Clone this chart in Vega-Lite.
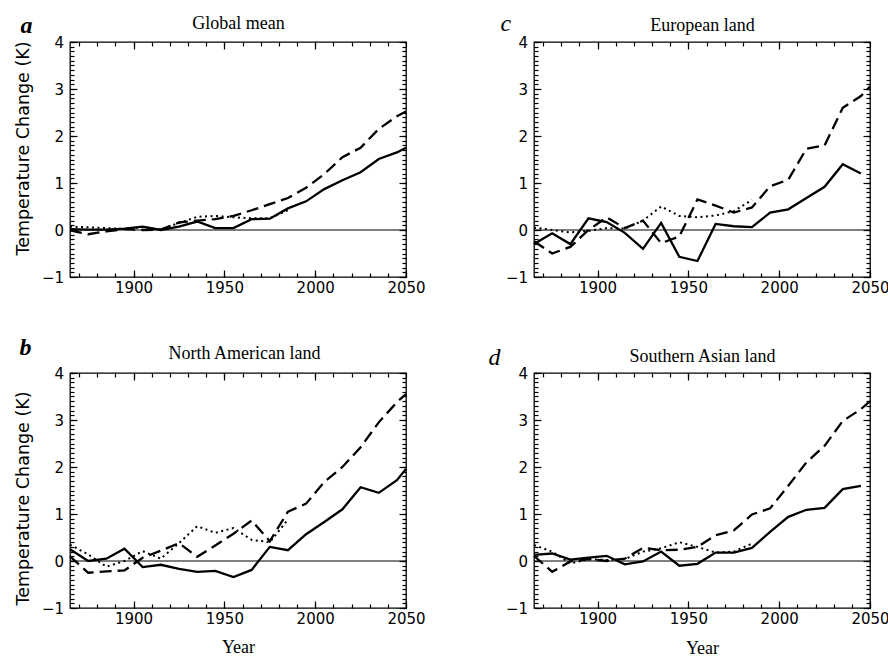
{
"$schema":"https://vega.github.io/schema/vega-lite/v6.json",
"background":"white",
"padding":{"left":13,"top":10,"right":0,"bottom":0},
"config":{
 "view":{"stroke":"black","strokeWidth":1.3},
 "axis":{"domain":false,"grid":false,"tickColor":"black","tickWidth":1.2,"labelFont":"DejaVu Sans","labelFontSize":15,"labelColor":"black","titleFont":"Liberation Serif","titleFontSize":18,"titleFontWeight":"normal","titleColor":"black","labelFlush":false,"labelOverlap":false}
},
"data":{"values":[
{"p":"a","s":"solid","year":1865,"t":0.02},{"p":"a","s":"solid","year":1875,"t":0.01},{"p":"a","s":"solid","year":1885,"t":0.01},{"p":"a","s":"solid","year":1895,"t":0.03},{"p":"a","s":"solid","year":1905,"t":0.07},{"p":"a","s":"solid","year":1915,"t":0.0},{"p":"a","s":"solid","year":1925,"t":0.07},{"p":"a","s":"solid","year":1935,"t":0.18},{"p":"a","s":"solid","year":1945,"t":0.04},{"p":"a","s":"solid","year":1955,"t":0.04},{"p":"a","s":"solid","year":1965,"t":0.23},{"p":"a","s":"solid","year":1975,"t":0.24},{"p":"a","s":"solid","year":1985,"t":0.46},{"p":"a","s":"solid","year":1995,"t":0.61},{"p":"a","s":"solid","year":2005,"t":0.87},{"p":"a","s":"solid","year":2015,"t":1.06},{"p":"a","s":"solid","year":2025,"t":1.23},{"p":"a","s":"solid","year":2035,"t":1.51},{"p":"a","s":"solid","year":2045,"t":1.65},{"p":"a","s":"solid","year":2050,"t":1.75},
{"p":"a","s":"dashed","year":1865,"t":-0.01},{"p":"a","s":"dashed","year":1875,"t":-0.09},{"p":"a","s":"dashed","year":1885,"t":-0.03},{"p":"a","s":"dashed","year":1895,"t":0.02},{"p":"a","s":"dashed","year":1905,"t":0.0},{"p":"a","s":"dashed","year":1915,"t":0.01},{"p":"a","s":"dashed","year":1925,"t":0.16},{"p":"a","s":"dashed","year":1935,"t":0.2},{"p":"a","s":"dashed","year":1945,"t":0.23},{"p":"a","s":"dashed","year":1955,"t":0.3},{"p":"a","s":"dashed","year":1965,"t":0.42},{"p":"a","s":"dashed","year":1975,"t":0.55},{"p":"a","s":"dashed","year":1985,"t":0.68},{"p":"a","s":"dashed","year":1995,"t":0.9},{"p":"a","s":"dashed","year":2005,"t":1.19},{"p":"a","s":"dashed","year":2015,"t":1.55},{"p":"a","s":"dashed","year":2025,"t":1.75},{"p":"a","s":"dashed","year":2035,"t":2.15},{"p":"a","s":"dashed","year":2045,"t":2.42},{"p":"a","s":"dashed","year":2050,"t":2.52},
{"p":"a","s":"dotted","year":1865,"t":0.07},{"p":"a","s":"dotted","year":1875,"t":0.06},{"p":"a","s":"dotted","year":1885,"t":0.04},{"p":"a","s":"dotted","year":1895,"t":0.02},{"p":"a","s":"dotted","year":1905,"t":0.06},{"p":"a","s":"dotted","year":1915,"t":0.01},{"p":"a","s":"dotted","year":1925,"t":0.15},{"p":"a","s":"dotted","year":1935,"t":0.28},{"p":"a","s":"dotted","year":1945,"t":0.3},{"p":"a","s":"dotted","year":1955,"t":0.27},{"p":"a","s":"dotted","year":1965,"t":0.25},{"p":"a","s":"dotted","year":1975,"t":0.25},{"p":"a","s":"dotted","year":1985,"t":0.42},
{"p":"b","s":"solid","year":1865,"t":0.25},{"p":"b","s":"solid","year":1875,"t":0.0},{"p":"b","s":"solid","year":1885,"t":0.05},{"p":"b","s":"solid","year":1895,"t":0.26},{"p":"b","s":"solid","year":1905,"t":-0.13},{"p":"b","s":"solid","year":1915,"t":-0.08},{"p":"b","s":"solid","year":1925,"t":-0.17},{"p":"b","s":"solid","year":1935,"t":-0.23},{"p":"b","s":"solid","year":1945,"t":-0.21},{"p":"b","s":"solid","year":1955,"t":-0.34},{"p":"b","s":"solid","year":1965,"t":-0.19},{"p":"b","s":"solid","year":1975,"t":0.3},{"p":"b","s":"solid","year":1985,"t":0.23},{"p":"b","s":"solid","year":1995,"t":0.57},{"p":"b","s":"solid","year":2005,"t":0.83},{"p":"b","s":"solid","year":2015,"t":1.1},{"p":"b","s":"solid","year":2025,"t":1.57},{"p":"b","s":"solid","year":2035,"t":1.45},{"p":"b","s":"solid","year":2045,"t":1.72},{"p":"b","s":"solid","year":2050,"t":1.96},
{"p":"b","s":"dashed","year":1865,"t":0.1},{"p":"b","s":"dashed","year":1875,"t":-0.25},{"p":"b","s":"dashed","year":1885,"t":-0.22},{"p":"b","s":"dashed","year":1895,"t":-0.2},{"p":"b","s":"dashed","year":1905,"t":0.07},{"p":"b","s":"dashed","year":1915,"t":0.22},{"p":"b","s":"dashed","year":1925,"t":0.38},{"p":"b","s":"dashed","year":1935,"t":0.09},{"p":"b","s":"dashed","year":1945,"t":0.33},{"p":"b","s":"dashed","year":1955,"t":0.58},{"p":"b","s":"dashed","year":1965,"t":0.86},{"p":"b","s":"dashed","year":1975,"t":0.42},{"p":"b","s":"dashed","year":1985,"t":1.05},{"p":"b","s":"dashed","year":1995,"t":1.22},{"p":"b","s":"dashed","year":2005,"t":1.68},{"p":"b","s":"dashed","year":2015,"t":2.0},{"p":"b","s":"dashed","year":2025,"t":2.42},{"p":"b","s":"dashed","year":2035,"t":2.95},{"p":"b","s":"dashed","year":2045,"t":3.38},{"p":"b","s":"dashed","year":2050,"t":3.55},
{"p":"b","s":"dotted","year":1865,"t":0.35},{"p":"b","s":"dotted","year":1875,"t":0.14},{"p":"b","s":"dotted","year":1885,"t":-0.12},{"p":"b","s":"dotted","year":1895,"t":0.0},{"p":"b","s":"dotted","year":1905,"t":0.21},{"p":"b","s":"dotted","year":1915,"t":0.05},{"p":"b","s":"dotted","year":1925,"t":0.38},{"p":"b","s":"dotted","year":1935,"t":0.74},{"p":"b","s":"dotted","year":1945,"t":0.6},{"p":"b","s":"dotted","year":1955,"t":0.7},{"p":"b","s":"dotted","year":1965,"t":0.45},{"p":"b","s":"dotted","year":1975,"t":0.4},{"p":"b","s":"dotted","year":1985,"t":0.88},
{"p":"c","s":"solid","year":1865,"t":-0.3},{"p":"c","s":"solid","year":1875,"t":-0.07},{"p":"c","s":"solid","year":1885,"t":-0.3},{"p":"c","s":"solid","year":1895,"t":0.25},{"p":"c","s":"solid","year":1905,"t":0.17},{"p":"c","s":"solid","year":1915,"t":-0.06},{"p":"c","s":"solid","year":1925,"t":-0.4},{"p":"c","s":"solid","year":1935,"t":0.15},{"p":"c","s":"solid","year":1945,"t":-0.57},{"p":"c","s":"solid","year":1955,"t":-0.66},{"p":"c","s":"solid","year":1965,"t":0.13},{"p":"c","s":"solid","year":1975,"t":0.08},{"p":"c","s":"solid","year":1985,"t":0.06},{"p":"c","s":"solid","year":1995,"t":0.37},{"p":"c","s":"solid","year":2005,"t":0.44},{"p":"c","s":"solid","year":2015,"t":0.68},{"p":"c","s":"solid","year":2025,"t":0.92},{"p":"c","s":"solid","year":2035,"t":1.4},{"p":"c","s":"solid","year":2045,"t":1.2},
{"p":"c","s":"dashed","year":1865,"t":-0.24},{"p":"c","s":"dashed","year":1875,"t":-0.5},{"p":"c","s":"dashed","year":1885,"t":-0.36},{"p":"c","s":"dashed","year":1895,"t":0.0},{"p":"c","s":"dashed","year":1905,"t":0.27},{"p":"c","s":"dashed","year":1915,"t":0.04},{"p":"c","s":"dashed","year":1925,"t":0.2},{"p":"c","s":"dashed","year":1935,"t":-0.28},{"p":"c","s":"dashed","year":1945,"t":-0.14},{"p":"c","s":"dashed","year":1955,"t":0.65},{"p":"c","s":"dashed","year":1965,"t":0.52},{"p":"c","s":"dashed","year":1975,"t":0.37},{"p":"c","s":"dashed","year":1985,"t":0.48},{"p":"c","s":"dashed","year":1995,"t":0.93},{"p":"c","s":"dashed","year":2005,"t":1.07},{"p":"c","s":"dashed","year":2015,"t":1.73},{"p":"c","s":"dashed","year":2025,"t":1.8},{"p":"c","s":"dashed","year":2035,"t":2.6},{"p":"c","s":"dashed","year":2045,"t":2.85},{"p":"c","s":"dashed","year":2050,"t":3.05},
{"p":"c","s":"dotted","year":1865,"t":0.05},{"p":"c","s":"dotted","year":1875,"t":0.0},{"p":"c","s":"dotted","year":1885,"t":-0.05},{"p":"c","s":"dotted","year":1895,"t":-0.02},{"p":"c","s":"dotted","year":1905,"t":0.04},{"p":"c","s":"dotted","year":1915,"t":0.03},{"p":"c","s":"dotted","year":1925,"t":0.2},{"p":"c","s":"dotted","year":1935,"t":0.5},{"p":"c","s":"dotted","year":1945,"t":0.3},{"p":"c","s":"dotted","year":1955,"t":0.27},{"p":"c","s":"dotted","year":1965,"t":0.31},{"p":"c","s":"dotted","year":1975,"t":0.4},{"p":"c","s":"dotted","year":1985,"t":0.64},
{"p":"d","s":"solid","year":1865,"t":0.13},{"p":"d","s":"solid","year":1875,"t":0.16},{"p":"d","s":"solid","year":1885,"t":0.03},{"p":"d","s":"solid","year":1895,"t":0.07},{"p":"d","s":"solid","year":1905,"t":0.11},{"p":"d","s":"solid","year":1915,"t":-0.07},{"p":"d","s":"solid","year":1925,"t":-0.01},{"p":"d","s":"solid","year":1935,"t":0.2},{"p":"d","s":"solid","year":1945,"t":-0.1},{"p":"d","s":"solid","year":1955,"t":-0.06},{"p":"d","s":"solid","year":1965,"t":0.18},{"p":"d","s":"solid","year":1975,"t":0.18},{"p":"d","s":"solid","year":1985,"t":0.28},{"p":"d","s":"solid","year":1995,"t":0.62},{"p":"d","s":"solid","year":2005,"t":0.94},{"p":"d","s":"solid","year":2015,"t":1.09},{"p":"d","s":"solid","year":2025,"t":1.13},{"p":"d","s":"solid","year":2035,"t":1.53},{"p":"d","s":"solid","year":2045,"t":1.6},
{"p":"d","s":"dashed","year":1865,"t":0.11},{"p":"d","s":"dashed","year":1875,"t":-0.23},{"p":"d","s":"dashed","year":1885,"t":-0.01},{"p":"d","s":"dashed","year":1895,"t":0.04},{"p":"d","s":"dashed","year":1905,"t":0.0},{"p":"d","s":"dashed","year":1915,"t":0.05},{"p":"d","s":"dashed","year":1925,"t":0.28},{"p":"d","s":"dashed","year":1935,"t":0.23},{"p":"d","s":"dashed","year":1945,"t":0.24},{"p":"d","s":"dashed","year":1955,"t":0.3},{"p":"d","s":"dashed","year":1965,"t":0.55},{"p":"d","s":"dashed","year":1975,"t":0.65},{"p":"d","s":"dashed","year":1985,"t":0.99},{"p":"d","s":"dashed","year":1995,"t":1.12},{"p":"d","s":"dashed","year":2005,"t":1.6},{"p":"d","s":"dashed","year":2015,"t":2.1},{"p":"d","s":"dashed","year":2025,"t":2.45},{"p":"d","s":"dashed","year":2035,"t":2.98},{"p":"d","s":"dashed","year":2045,"t":3.23},{"p":"d","s":"dashed","year":2050,"t":3.4},
{"p":"d","s":"dotted","year":1865,"t":0.34},{"p":"d","s":"dotted","year":1875,"t":0.2},{"p":"d","s":"dotted","year":1885,"t":-0.05},{"p":"d","s":"dotted","year":1895,"t":0.04},{"p":"d","s":"dotted","year":1905,"t":0.02},{"p":"d","s":"dotted","year":1915,"t":0.04},{"p":"d","s":"dotted","year":1925,"t":0.2},{"p":"d","s":"dotted","year":1935,"t":0.27},{"p":"d","s":"dotted","year":1945,"t":0.4},{"p":"d","s":"dotted","year":1955,"t":0.3},{"p":"d","s":"dotted","year":1965,"t":0.18},{"p":"d","s":"dotted","year":1975,"t":0.2},{"p":"d","s":"dotted","year":1985,"t":0.37}
]},
"columns":2,
"bounds":"flush",
"spacing":{"row":96,"column":128},
"concat":[
{"width":336,"height":235,"resolve":{"axis":{"x":"independent","y":"independent"}},
 "layer":[
  {"transform":[{"filter":"datum.p==='a' && datum.s==='solid'"}],"mark":{"type":"line","color":"black","strokeWidth":2.3},
   "encoding":{"x":{"field":"year","type":"quantitative","scale":{"domain":[1865,2050],"nice":false,"zero":false},"axis":{"orient":"bottom","values":[1900,1950,2000,2050],"format":"d","offset":-7,"tickSize":7,"labelPadding":3,"title":null}},
    "y":{"field":"t","type":"quantitative","scale":{"domain":[-1,4],"nice":false,"zero":false},"axis":{"orient":"left","values":[-1,0,1,2,3,4],"format":"d","offset":-7,"tickSize":7,"labelPadding":6.5,"title":"Temperature Change (K)","titleFont":"DejaVu Sans","titleFontSize":17.5,"titleX":-49,"titleY":106,"titleBaseline":"alphabetic"}}}},
  {"transform":[{"filter":"datum.p==='a' && datum.s==='dashed'"}],"mark":{"type":"line","color":"black","strokeWidth":2.3,"strokeDash":[12,6]},
   "encoding":{"x":{"field":"year","type":"quantitative","axis":{"orient":"bottom","tickCount":18,"offset":-4,"tickSize":4,"labels":false,"title":null}},
    "y":{"field":"t","type":"quantitative","axis":{"orient":"left","tickCount":50,"offset":-4,"tickSize":4,"labels":false,"title":"a","titleAngle":0,"titleX":-54,"titleY":-10,"titleAlign":"left","titleBaseline":"alphabetic","titleFontSize":24,"titleFontStyle":"italic","titleFontWeight":"bold"}}}},
  {"transform":[{"filter":"datum.p==='a' && datum.s==='dotted'"}],"mark":{"type":"line","color":"black","strokeWidth":2,"strokeDash":[2,3.5]},
   "encoding":{"x":{"field":"year","type":"quantitative","axis":{"orient":"top","values":[1900,1950,2000],"offset":-7,"tickSize":7,"labels":false,"title":"Global mean","titleY":-21,"titleBaseline":"alphabetic"}},
    "y":{"field":"t","type":"quantitative","axis":{"orient":"right","values":[-1,0,1,2,3,4],"offset":-7,"tickSize":7,"labels":false,"title":null}}}},
  {"data":{"values":[{}]},"mark":{"type":"rule","color":"black","strokeWidth":1},
   "encoding":{"x":{"datum":1865,"type":"quantitative","axis":{"orient":"top","tickCount":18,"offset":-4,"tickSize":4,"labels":false,"title":null}},"x2":{"datum":2050},
    "y":{"datum":0,"type":"quantitative","axis":{"orient":"right","tickCount":50,"offset":-4,"tickSize":4,"labels":false,"title":null}}}}
 ]},
{"width":336,"height":235,"resolve":{"axis":{"x":"independent","y":"independent"}},
 "layer":[
  {"transform":[{"filter":"datum.p==='c' && datum.s==='solid'"}],"mark":{"type":"line","color":"black","strokeWidth":2.3},
   "encoding":{"x":{"field":"year","type":"quantitative","scale":{"domain":[1865,2050],"nice":false,"zero":false},"axis":{"orient":"bottom","values":[1900,1950,2000,2050],"format":"d","offset":-7,"tickSize":7,"labelPadding":3,"title":null}},
    "y":{"field":"t","type":"quantitative","scale":{"domain":[-1,4],"nice":false,"zero":false},"axis":{"orient":"left","values":[-1,0,1,2,3,4],"format":"d","offset":-7,"tickSize":7,"labelPadding":6.5,"title":null}}}},
  {"transform":[{"filter":"datum.p==='c' && datum.s==='dashed'"}],"mark":{"type":"line","color":"black","strokeWidth":2.3,"strokeDash":[12,6]},
   "encoding":{"x":{"field":"year","type":"quantitative","axis":{"orient":"bottom","tickCount":18,"offset":-4,"tickSize":4,"labels":false,"title":null}},
    "y":{"field":"t","type":"quantitative","axis":{"orient":"left","tickCount":50,"offset":-4,"tickSize":4,"labels":false,"title":"c","titleAngle":0,"titleX":-38,"titleY":-12,"titleAlign":"left","titleBaseline":"alphabetic","titleFontSize":24,"titleFontStyle":"italic","titleFontWeight":"normal"}}}},
  {"transform":[{"filter":"datum.p==='c' && datum.s==='dotted'"}],"mark":{"type":"line","color":"black","strokeWidth":2,"strokeDash":[2,3.5]},
   "encoding":{"x":{"field":"year","type":"quantitative","axis":{"orient":"top","values":[1900,1950,2000],"offset":-7,"tickSize":7,"labels":false,"title":"European land","titleY":-19,"titleBaseline":"alphabetic"}},
    "y":{"field":"t","type":"quantitative","axis":{"orient":"right","values":[-1,0,1,2,3,4],"offset":-7,"tickSize":7,"labels":false,"title":null}}}},
  {"data":{"values":[{}]},"mark":{"type":"rule","color":"black","strokeWidth":1},
   "encoding":{"x":{"datum":1865,"type":"quantitative","axis":{"orient":"top","tickCount":18,"offset":-4,"tickSize":4,"labels":false,"title":null}},"x2":{"datum":2050},
    "y":{"datum":0,"type":"quantitative","axis":{"orient":"right","tickCount":50,"offset":-4,"tickSize":4,"labels":false,"title":null}}}}
 ]},
{"width":336,"height":235,"resolve":{"axis":{"x":"independent","y":"independent"}},
 "layer":[
  {"transform":[{"filter":"datum.p==='b' && datum.s==='solid'"}],"mark":{"type":"line","color":"black","strokeWidth":2.3},
   "encoding":{"x":{"field":"year","type":"quantitative","scale":{"domain":[1865,2050],"nice":false,"zero":false},"axis":{"orient":"bottom","values":[1900,1950,2000,2050],"format":"d","offset":-7,"tickSize":7,"labelPadding":3,"title":"Year","titleY":51,"titleBaseline":"alphabetic"}},
    "y":{"field":"t","type":"quantitative","scale":{"domain":[-1,4],"nice":false,"zero":false},"axis":{"orient":"left","values":[-1,0,1,2,3,4],"format":"d","offset":-7,"tickSize":7,"labelPadding":6.5,"title":"Temperature Change (K)","titleFont":"DejaVu Sans","titleFontSize":17.5,"titleX":-49,"titleY":125,"titleBaseline":"alphabetic"}}}},
  {"transform":[{"filter":"datum.p==='b' && datum.s==='dashed'"}],"mark":{"type":"line","color":"black","strokeWidth":2.3,"strokeDash":[12,6]},
   "encoding":{"x":{"field":"year","type":"quantitative","axis":{"orient":"bottom","tickCount":18,"offset":-4,"tickSize":4,"labels":false,"title":null}},
    "y":{"field":"t","type":"quantitative","axis":{"orient":"left","tickCount":50,"offset":-4,"tickSize":4,"labels":false,"title":"b","titleAngle":0,"titleX":-55,"titleY":-19,"titleAlign":"left","titleBaseline":"alphabetic","titleFontSize":24,"titleFontStyle":"italic","titleFontWeight":"bold"}}}},
  {"transform":[{"filter":"datum.p==='b' && datum.s==='dotted'"}],"mark":{"type":"line","color":"black","strokeWidth":2,"strokeDash":[2,3.5]},
   "encoding":{"x":{"field":"year","type":"quantitative","axis":{"orient":"top","values":[1900,1950,2000],"offset":-7,"tickSize":7,"labels":false,"title":"North American land","titleX":174,"titleY":-22,"titleBaseline":"alphabetic"}},
    "y":{"field":"t","type":"quantitative","axis":{"orient":"right","values":[-1,0,1,2,3,4],"offset":-7,"tickSize":7,"labels":false,"title":null}}}},
  {"data":{"values":[{}]},"mark":{"type":"rule","color":"black","strokeWidth":1},
   "encoding":{"x":{"datum":1865,"type":"quantitative","axis":{"orient":"top","tickCount":18,"offset":-4,"tickSize":4,"labels":false,"title":null}},"x2":{"datum":2050},
    "y":{"datum":0,"type":"quantitative","axis":{"orient":"right","tickCount":50,"offset":-4,"tickSize":4,"labels":false,"title":null}}}}
 ]},
{"width":336,"height":235,"resolve":{"axis":{"x":"independent","y":"independent"}},
 "layer":[
  {"transform":[{"filter":"datum.p==='d' && datum.s==='solid'"}],"mark":{"type":"line","color":"black","strokeWidth":2.3},
   "encoding":{"x":{"field":"year","type":"quantitative","scale":{"domain":[1865,2050],"nice":false,"zero":false},"axis":{"orient":"bottom","values":[1900,1950,2000,2050],"format":"d","offset":-7,"tickSize":7,"labelPadding":3,"title":"Year","titleY":52,"titleBaseline":"alphabetic"}},
    "y":{"field":"t","type":"quantitative","scale":{"domain":[-1,4],"nice":false,"zero":false},"axis":{"orient":"left","values":[-1,0,1,2,3,4],"format":"d","offset":-7,"tickSize":7,"labelPadding":6.5,"title":null}}}},
  {"transform":[{"filter":"datum.p==='d' && datum.s==='dashed'"}],"mark":{"type":"line","color":"black","strokeWidth":2.3,"strokeDash":[12,6]},
   "encoding":{"x":{"field":"year","type":"quantitative","axis":{"orient":"bottom","tickCount":18,"offset":-4,"tickSize":4,"labels":false,"title":null}},
    "y":{"field":"t","type":"quantitative","axis":{"orient":"left","tickCount":50,"offset":-4,"tickSize":4,"labels":false,"title":"d","titleAngle":0,"titleX":-50,"titleY":-9,"titleAlign":"left","titleBaseline":"alphabetic","titleFontSize":24,"titleFontStyle":"italic","titleFontWeight":"normal"}}}},
  {"transform":[{"filter":"datum.p==='d' && datum.s==='dotted'"}],"mark":{"type":"line","color":"black","strokeWidth":2,"strokeDash":[2,3.5]},
   "encoding":{"x":{"field":"year","type":"quantitative","axis":{"orient":"top","values":[1900,1950,2000],"offset":-7,"tickSize":7,"labels":false,"title":"Southern Asian land","titleY":-19,"titleBaseline":"alphabetic"}},
    "y":{"field":"t","type":"quantitative","axis":{"orient":"right","values":[-1,0,1,2,3,4],"offset":-7,"tickSize":7,"labels":false,"title":null}}}},
  {"data":{"values":[{}]},"mark":{"type":"rule","color":"black","strokeWidth":1},
   "encoding":{"x":{"datum":1865,"type":"quantitative","axis":{"orient":"top","tickCount":18,"offset":-4,"tickSize":4,"labels":false,"title":null}},"x2":{"datum":2050},
    "y":{"datum":0,"type":"quantitative","axis":{"orient":"right","tickCount":50,"offset":-4,"tickSize":4,"labels":false,"title":null}}}}
 ]}
]
}
